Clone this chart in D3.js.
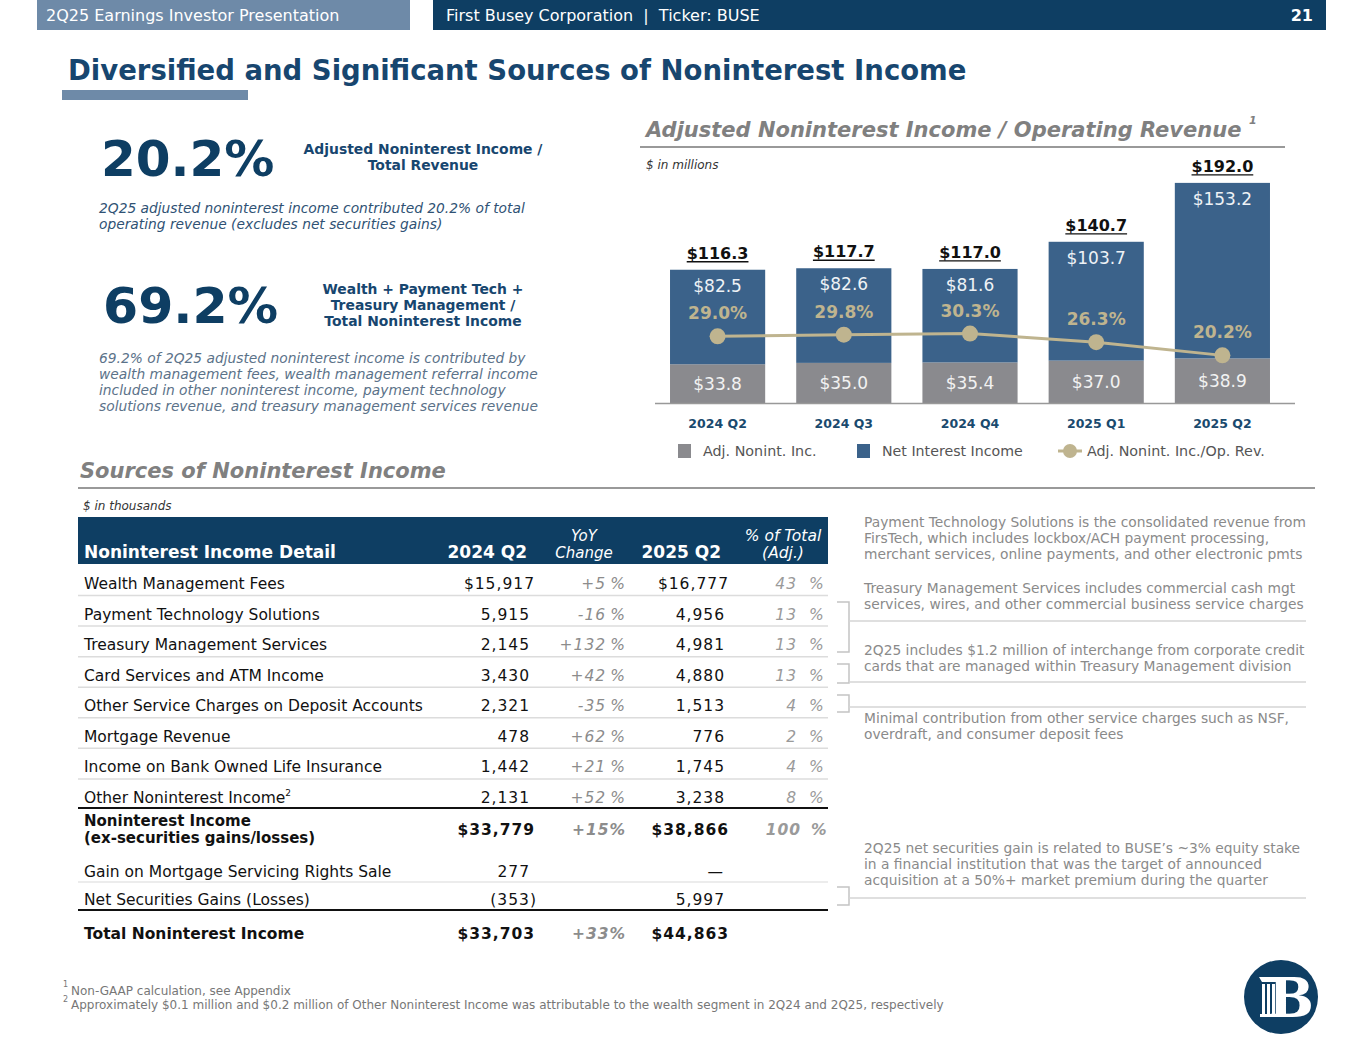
<!DOCTYPE html>
<html>
<head>
<meta charset="utf-8">
<script src="https://cdn.jsdelivr.net/npm/d3@7"></script>
<style>
  body { margin: 0; background: #fff; }
  svg { display: block; }
</style>
</head>
<body>
<svg id="slide" width="1365" height="1055"></svg>
<script>
// chart data ($ in millions)
var quarters = ["2024 Q2", "2024 Q3", "2024 Q4", "2025 Q1", "2025 Q2"];
var adjNonint = [33.8, 35.0, 35.4, 37.0, 38.9];
var netInterest = [82.5, 82.6, 81.6, 103.7, 153.2];
var totals = [116.3, 117.7, 117.0, 140.7, 192.0];
var nonintRatio = [29.0, 29.8, 30.3, 26.3, 20.2];

// table data ($ in thousands)
var rowLabels = ["Wealth Management Fees", "Payment Technology Solutions", "Treasury Management Services",
  "Card Services and ATM Income", "Other Service Charges on Deposit Accounts", "Mortgage Revenue",
  "Income on Bank Owned Life Insurance", "Other Noninterest Income"];
var q2Of2024 = ["$15,917", "5,915", "2,145", "3,430", "2,321", "478", "1,442", "2,131"];
var yoyChange = ["+5", "-16", "+132", "+42", "-35", "+62", "+21", "+52"];
var q2Of2025 = ["$16,777", "4,956", "4,981", "4,880", "1,513", "776", "1,745", "3,238"];
var pctOfTotal = ["43", "13", "13", "13", "4", "2", "4", "8"];
var subtotal = { q24: "$33,779", yoy: "+15%", q25: "$38,866", pct: "100" };
var gainMsr = { q24: "277", q25: "\u2014" };
var netSec = { q24: "(353)", q25: "5,997" };
var totalRow = { q24: "$33,703", yoy: "+33%", q25: "$44,863" };

var navy = "#0e3e63", steel = "#6e8aa8", titleBlue = "#17466f";
var barBlue = "#3b628a", barGray = "#8a8a8e", tan = "#bfb48f";
var sans = "DejaVu Sans, Verdana, sans-serif";

var svg = d3.select("#slide");

function txt(g, x, y, s, size, opts) {
  opts = opts || {};
  var t = g.append("text").attr("x", x).attr("y", y).text(s)
    .style("font-family", opts.family || sans)
    .style("font-size", size + "px")
    .style("font-weight", opts.weight || "normal")
    .style("font-style", opts.style || "normal")
    .attr("fill", opts.fill || "#333")
    .attr("text-anchor", opts.anchor || "start");
  if (opts.spacing) t.style("letter-spacing", opts.spacing + "px");
  return t;
}

// ---------- header ----------
svg.append("rect").attr("x", 37).attr("y", 0).attr("width", 373).attr("height", 30).attr("fill", steel);
svg.append("rect").attr("x", 433).attr("y", 0).attr("width", 893).attr("height", 30).attr("fill", navy);
txt(svg, 46, 21, "2Q25 Earnings Investor Presentation", 16, { fill: "#fff" });
txt(svg, 446, 21, "First Busey Corporation \u00a0|\u00a0 Ticker: BUSE", 16, { fill: "#fff" });
txt(svg, 1313, 21, "21", 16, { fill: "#fff", weight: "bold", anchor: "end" });

txt(svg, 68, 80, "Diversified and Significant Sources of Noninterest Income", 27.5, { weight: "bold", fill: titleBlue });
svg.append("rect").attr("x", 62).attr("y", 90).attr("width", 186).attr("height", 10).attr("fill", steel);

// ---------- left callouts ----------
txt(svg, 101, 176, "20.2%", 50, { weight: "bold", fill: navy });
txt(svg, 423, 154, "Adjusted Noninterest Income /", 13.9, { weight: "bold", fill: titleBlue, anchor: "middle" });
txt(svg, 423, 170, "Total Revenue", 13.9, { weight: "bold", fill: titleBlue, anchor: "middle" });
txt(svg, 99, 213, "2Q25 adjusted noninterest income contributed 20.2% of total", 13.8, { style: "italic", fill: "#2f5274" });
txt(svg, 99, 229, "operating revenue (excludes net securities gains)", 13.8, { style: "italic", fill: "#2f5274" });

txt(svg, 103, 323, "69.2%", 50.5, { weight: "bold", fill: navy });
["Wealth + Payment Tech +", "Treasury Management /", "Total Noninterest Income"].forEach(function (s, i) {
  txt(svg, 423, 294 + i * 16, s, 13.9, { weight: "bold", fill: titleBlue, anchor: "middle" });
});
["69.2% of 2Q25 adjusted noninterest income is contributed by",
 "wealth management fees, wealth management referral income",
 "included in other noninterest income, payment technology",
 "solutions revenue, and treasury management services revenue"].forEach(function (s, i) {
  txt(svg, 99, 363 + i * 16, s, 13.8, { style: "italic", fill: "#5b7289" });
});

// ---------- bar chart ----------
txt(svg, 646, 137, "Adjusted Noninterest Income / Operating Revenue", 21, { weight: "bold", style: "italic", fill: "#808080" });
txt(svg, 1249, 124, "1", 11, { weight: "bold", style: "italic", fill: "#808080" });
svg.append("line").attr("x1", 640).attr("x2", 1285).attr("y1", 147).attr("y2", 147).attr("stroke", "#999").attr("stroke-width", 2);
txt(svg, 646, 169, "$ in millions", 12, { style: "italic", fill: "#333" });

var x = d3.scaleBand().domain(quarters).range([655, 1285]).paddingInner(0.246).paddingOuter(0.119);
var y = d3.scaleLinear().domain([0, 192]).range([403, 183]);
var y2 = d3.scaleLinear().domain([0, 100]).range([399, 183]);

var chart = svg.append("g");
var bars = chart.selectAll("g.bar").data(quarters).enter().append("g").attr("class", "bar");

bars.append("rect")
  .attr("x", function (d) { return x(d); })
  .attr("width", x.bandwidth())
  .attr("y", function (d, i) { return y(adjNonint[i]); })
  .attr("height", function (d, i) { return y(0) - y(adjNonint[i]); })
  .attr("fill", barGray);

bars.append("rect")
  .attr("x", function (d) { return x(d); })
  .attr("width", x.bandwidth())
  .attr("y", function (d, i) { return y(adjNonint[i] + netInterest[i]); })
  .attr("height", function (d, i) { return y(adjNonint[i]) - y(adjNonint[i] + netInterest[i]); })
  .attr("fill", barBlue);

bars.append("text")
  .attr("x", function (d) { return x(d) + x.bandwidth() / 2; })
  .attr("y", function (d, i) { return (y(adjNonint[i]) + y(0)) / 2 + 6; })
  .attr("text-anchor", "middle").attr("fill", "#f2f2f2")
  .style("font-family", sans).style("font-size", "17px")
  .text(function (d, i) { return "$" + adjNonint[i].toFixed(1); });

bars.append("text")
  .attr("x", function (d) { return x(d) + x.bandwidth() / 2; })
  .attr("y", function (d, i) { return y(adjNonint[i] + netInterest[i]) + 22; })
  .attr("text-anchor", "middle").attr("fill", "#eef2f6")
  .style("font-family", sans).style("font-size", "17px")
  .text(function (d, i) { return "$" + netInterest[i].toFixed(1); });

// totals, underlined
bars.each(function (d, i) {
  var g = d3.select(this);
  var cx = x(d) + x.bandwidth() / 2;
  var ty = y(adjNonint[i] + netInterest[i]) - 11;
  var t = txt(g, cx, ty, "$" + totals[i].toFixed(1), 16, { weight: "bold", fill: "#111", anchor: "middle" });
  var w = t.node().getComputedTextLength();
  g.append("line").attr("x1", cx - w / 2).attr("x2", cx + w / 2).attr("y1", ty + 3).attr("y2", ty + 3)
    .attr("stroke", "#111").attr("stroke-width", 1.3);
});

// ratio line
var cxOf = function (d) { return x(d) + x.bandwidth() / 2; };
chart.append("path")
  .datum(quarters)
  .attr("fill", "none").attr("stroke", tan).attr("stroke-width", 3)
  .attr("d", d3.line().x(cxOf).y(function (d, i) { return y2(nonintRatio[i]); }));
chart.selectAll("circle.pt").data(quarters).enter().append("circle")
  .attr("cx", cxOf).attr("cy", function (d, i) { return y2(nonintRatio[i]); })
  .attr("r", 8).attr("fill", tan);
chart.selectAll("text.pct").data(quarters).enter().append("text")
  .attr("x", cxOf).attr("y", function (d, i) { return y2(nonintRatio[i]) - 17; })
  .attr("text-anchor", "middle").attr("fill", tan)
  .style("font-family", sans).style("font-size", "17px").style("font-weight", "bold")
  .text(function (d, i) { return nonintRatio[i].toFixed(1) + "%"; });

chart.append("line").attr("x1", 655).attr("x2", 1295).attr("y1", 403.5).attr("y2", 403.5)
  .attr("stroke", "#999").attr("stroke-width", 1.5);
chart.selectAll("text.cat").data(quarters).enter().append("text")
  .attr("x", cxOf).attr("y", 428)
  .attr("text-anchor", "middle").attr("fill", "#1a4a6e")
  .style("font-family", sans).style("font-size", "12.5px").style("font-weight", "bold")
  .text(function (d) { return d; });

// legend
var leg = svg.append("g");
leg.append("rect").attr("x", 678).attr("y", 444).attr("width", 13).attr("height", 14).attr("fill", barGray);
txt(leg, 703, 456, "Adj. Nonint. Inc.", 14.3, { fill: "#555" });
leg.append("rect").attr("x", 857).attr("y", 444).attr("width", 13).attr("height", 14).attr("fill", barBlue);
txt(leg, 882, 456, "Net Interest Income", 14.2, { fill: "#555" });
leg.append("line").attr("x1", 1058).attr("x2", 1082).attr("y1", 451).attr("y2", 451).attr("stroke", tan).attr("stroke-width", 3);
leg.append("circle").attr("cx", 1070).attr("cy", 451).attr("r", 7).attr("fill", tan);
txt(leg, 1087, 456, "Adj. Nonint. Inc./Op. Rev.", 14.3, { fill: "#555" });

// ---------- sources table ----------
txt(svg, 80, 478, "Sources of Noninterest Income", 21, { weight: "bold", style: "italic", fill: "#808080" });
svg.append("line").attr("x1", 78).attr("x2", 1315).attr("y1", 488).attr("y2", 488).attr("stroke", "#999").attr("stroke-width", 2);
txt(svg, 83, 510, "$ in thousands", 12, { style: "italic", fill: "#333" });

var tbl = svg.append("g");
var fs = 15.5;
var colLabel = 84, col24 = 530, colYoy = 626, col25 = 725, colPct = 797;
tbl.append("rect").attr("x", 78).attr("y", 517).attr("width", 750).attr("height", 47).attr("fill", navy);
txt(tbl, colLabel, 558, "Noninterest Income Detail", 17, { weight: "bold", fill: "#fff" });
txt(tbl, 527, 558, "2024 Q2", 17, { weight: "bold", fill: "#fff", anchor: "end" });
txt(tbl, 584, 541, "YoY", 15, { style: "italic", fill: "#fff", anchor: "middle" });
txt(tbl, 584, 558, "Change", 15, { style: "italic", fill: "#fff", anchor: "middle" });
txt(tbl, 721, 558, "2025 Q2", 17, { weight: "bold", fill: "#fff", anchor: "end" });
txt(tbl, 783, 541, "% of Total", 15.5, { style: "italic", fill: "#fff", anchor: "middle" });
txt(tbl, 783, 558, "(Adj.)", 15.5, { style: "italic", fill: "#fff", anchor: "middle" });

var rowY = d3.scalePoint().domain(rowLabels).range([583, 797]);
var rows = tbl.selectAll("g.row").data(rowLabels).enter().append("g").attr("class", "row")
  .attr("transform", function (d) { return "translate(0," + (rowY(d) + 6) + ")"; });
rows.each(function (d, i) {
  var g = d3.select(this);
  var lab = txt(g, colLabel, 0, d, fs, { fill: "#111" });
  if (i === rowLabels.length - 1) {
    lab.append("tspan").attr("dy", -7).style("font-size", "9px").text("2");
  }
  txt(g, col24 + (i === 0 ? 5 : 0), 0, q2Of2024[i], fs, { fill: "#111", anchor: "end", spacing: 1 });
  txt(g, colYoy, 0, yoyChange[i] + "\u2009%", fs, { style: "italic", fill: "#8c8c8c", anchor: "end", spacing: 1 });
  txt(g, col25 + (i === 0 ? 4 : 0), 0, q2Of2025[i], fs, { fill: "#111", anchor: "end", spacing: 1 });
  txt(g, colPct, 0, pctOfTotal[i], fs, { style: "italic", fill: "#9a9a9a", anchor: "end", spacing: 1 });
  txt(g, 809, 0, "%", fs, { style: "italic", fill: "#9a9a9a" });
  if (i < rowLabels.length - 1) {
    g.append("line").attr("x1", 78).attr("x2", 828).attr("y1", 6.5).attr("y2", 6.5).attr("stroke", "#dcdcdc").attr("stroke-width", 1.5);
  }
});
tbl.append("line").attr("x1", 78).attr("x2", 828).attr("y1", 808).attr("y2", 808).attr("stroke", "#111").attr("stroke-width", 2);

// subtotal
txt(tbl, colLabel, 826, "Noninterest Income", 15, { weight: "bold", fill: "#111" });
txt(tbl, colLabel, 843, "(ex-securities gains/losses)", 15, { weight: "bold", fill: "#111" });
txt(tbl, col24 + 5, 835, subtotal.q24, fs, { weight: "bold", fill: "#111", anchor: "end", spacing: 1 });
txt(tbl, colYoy, 835, subtotal.yoy, fs, { weight: "bold", style: "italic", fill: "#8c8c8c", anchor: "end", spacing: 1 });
txt(tbl, col25 + 4, 835, subtotal.q25, fs, { weight: "bold", fill: "#111", anchor: "end", spacing: 1 });
txt(tbl, colPct + 4, 835, subtotal.pct, fs, { weight: "bold", style: "italic", fill: "#9a9a9a", anchor: "end", spacing: 1 });
txt(tbl, 811, 835, "%", fs, { weight: "bold", style: "italic", fill: "#9a9a9a" });

txt(tbl, colLabel, 877, "Gain on Mortgage Servicing Rights Sale", fs, { fill: "#111" });
txt(tbl, col24, 877, gainMsr.q24, fs, { fill: "#111", anchor: "end", spacing: 1 });
txt(tbl, col25 - 2, 877, gainMsr.q25, fs, { fill: "#111", anchor: "end" });
tbl.append("line").attr("x1", 78).attr("x2", 828).attr("y1", 882).attr("y2", 882).attr("stroke", "#e6e6e6").attr("stroke-width", 1.5);
txt(tbl, colLabel, 905, "Net Securities Gains (Losses)", fs, { fill: "#111" });
txt(tbl, col24 + 7, 905, netSec.q24, fs, { fill: "#111", anchor: "end", spacing: 1 });
txt(tbl, col25, 905, netSec.q25, fs, { fill: "#111", anchor: "end", spacing: 1 });
tbl.append("line").attr("x1", 78).attr("x2", 828).attr("y1", 910).attr("y2", 910).attr("stroke", "#111").attr("stroke-width", 2);

txt(tbl, colLabel, 939, "Total Noninterest Income", fs, { weight: "bold", fill: "#111" });
txt(tbl, col24 + 5, 939, totalRow.q24, fs, { weight: "bold", fill: "#111", anchor: "end", spacing: 1 });
txt(tbl, colYoy, 939, totalRow.yoy, fs, { weight: "bold", style: "italic", fill: "#8c8c8c", anchor: "end", spacing: 1 });
txt(tbl, col25 + 4, 939, totalRow.q25, fs, { weight: "bold", fill: "#111", anchor: "end", spacing: 1 });

// ---------- annotations ----------
var notes = svg.append("g");
var noteLines = [
  [527, "Payment Technology Solutions is the consolidated revenue from"],
  [543, "FirsTech, which includes lockbox/ACH payment processing,"],
  [559, "merchant services, online payments, and other electronic pmts"],
  [593, "Treasury Management Services includes commercial cash mgt"],
  [609, "services, wires, and other commercial business service charges"],
  [655, "2Q25 includes $1.2 million of interchange from corporate credit"],
  [671, "cards that are managed within Treasury Management division"],
  [723, "Minimal contribution from other service charges such as NSF,"],
  [739, "overdraft, and consumer deposit fees"],
  [853, "2Q25 net securities gain is related to BUSE\u2019s ~3% equity stake"],
  [869, "in a financial institution that was the target of announced"],
  [885, "acquisition at a 50%+ market premium during the quarter"]
];
noteLines.forEach(function (n) { txt(notes, 864, n[0], n[1], 13.8, { fill: "#8a8a8a" }); });

// brackets: [top, bottom, connector y]
var brackets = [[602, 652, 621], [664, 683, 682], [695, 712, 707], [887, 905, 898]];
brackets.forEach(function (b) {
  notes.append("path")
    .attr("d", "M837," + b[0] + "H849V" + b[1] + "H837")
    .attr("fill", "none").attr("stroke", "#c4c4c4").attr("stroke-width", 1.5);
  notes.append("line").attr("x1", 849).attr("x2", 1306).attr("y1", b[2]).attr("y2", b[2])
    .attr("stroke", "#d4d4d4").attr("stroke-width", 1.5);
});

// ---------- footnotes ----------
var fn = svg.append("g");
txt(fn, 63, 987, "1", 8, { fill: "#777" });
txt(fn, 71, 995, "Non-GAAP calculation, see Appendix", 12, { fill: "#777" });
txt(fn, 63, 1002, "2", 8, { fill: "#777" });
txt(fn, 71, 1009, "Approximately $0.1 million and $0.2 million of Other Noninterest Income was attributable to the wealth segment in 2Q24 and 2Q25, respectively", 12, { fill: "#777" });

// ---------- logo ----------
var logo = svg.append("g").attr("transform", "translate(1281,997)");
logo.append("circle").attr("r", 37).attr("fill", navy);
logo.append("path").attr("d", "M-22,-20 H2 V-15 H-19 Z").attr("fill", "#fff");
[-19, -14, -9].forEach(function (cx) {
  logo.append("rect").attr("x", cx).attr("y", -13).attr("width", 3).attr("height", 30).attr("fill", "#fff");
});
logo.append("rect").attr("x", -21).attr("y", 17).attr("width", 22).attr("height", 3).attr("fill", "#fff");
txt(logo, 10, 20, "B", 54, { family: "DejaVu Serif, serif", weight: "bold", fill: "#fff", anchor: "middle" });
</script>
</body>
</html>
